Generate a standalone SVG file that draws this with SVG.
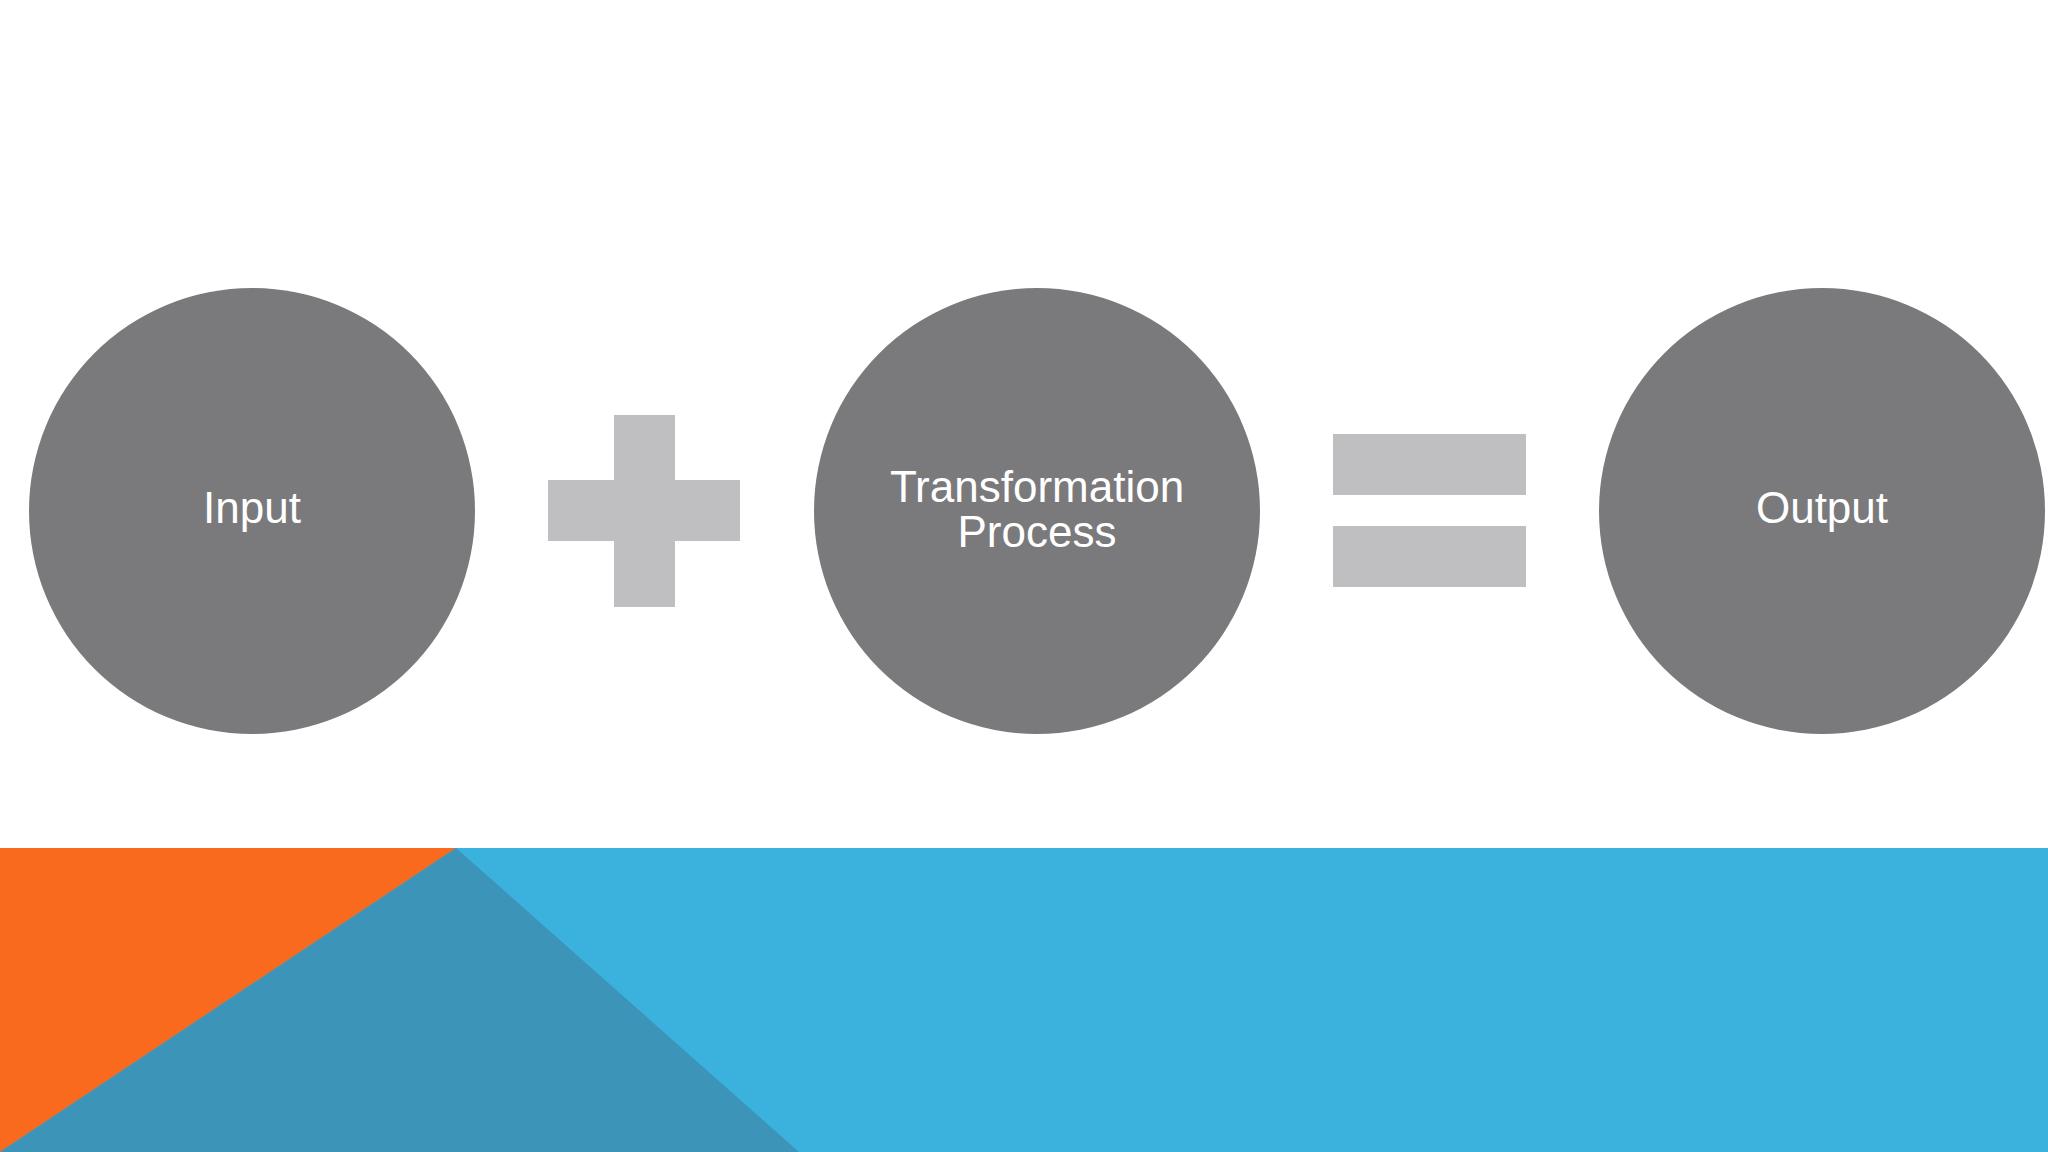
<svg xmlns="http://www.w3.org/2000/svg" width="2048" height="1152" viewBox="0 0 2048 1152">
<style>
.node{fill:#7a7a7c}
.op{fill:#bfbfc1}
.lbl{font-family:"Liberation Sans",Arial,sans-serif;font-size:44px;fill:#ffffff;text-anchor:middle}
</style>
<rect width="2048" height="1152" fill="#ffffff"/>
<g id="band">
<rect x="0" y="848" width="2048" height="304" fill="#3bb1de"/>
<polygon points="0,848 456,848 0,1152" fill="#f96a1e"/>
<polygon points="456,848 799,1152 0,1152" fill="#3c95b8"/>
</g>
<g id="input">
<circle class="node" cx="252" cy="511" r="223"/>
<text class="lbl" x="252" y="523">Input</text>
</g>
<g id="plus">
<rect class="op" x="614" y="415" width="61" height="192"/>
<rect class="op" x="548" y="480" width="192" height="61"/>
</g>
<g id="transformation">
<circle class="node" cx="1037" cy="511" r="223"/>
<text class="lbl" x="1037" y="502">Transformation</text>
<text class="lbl" x="1037" y="547">Process</text>
</g>
<g id="equals">
<rect class="op" x="1333" y="434" width="193" height="61"/>
<rect class="op" x="1333" y="526" width="193" height="61"/>
</g>
<g id="output">
<circle class="node" cx="1822" cy="511" r="223"/>
<text class="lbl" x="1822" y="523">Output</text>
</g>
<g id="connectors"/>
</svg>
